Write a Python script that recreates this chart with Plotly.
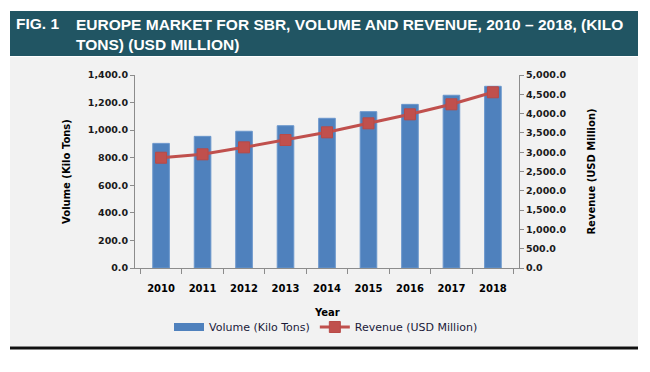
import plotly.graph_objects as go

years = ["2010", "2011", "2012", "2013", "2014", "2015", "2016", "2017", "2018"]
volume_kt = [904, 955, 992, 1032, 1086, 1134, 1187, 1253, 1318]
revenue_musd = [2857, 2945, 3126, 3316, 3515, 3748, 3981, 4241, 4552]

# The page puts the figure 8px in from the top-left corner of the window,
# so the figure is drawn 8px smaller and positions are given in window pixels.
OFF = 8
W, H = 650 - OFF, 372 - OFF
# plot area in window pixels
L, R, T, B = 135, 519, 75, 268


def px(x):
    return (x - L) / (R - L)


def py(y):
    return (B - y) / (B - T)


BLUE = "#4F81BD"
RED = "#C0504D"

fig = go.Figure()
fig.add_trace(go.Bar(
    x=years, y=volume_kt, name="Volume (Kilo Tons)",
    marker=dict(color=BLUE, line=dict(color="#6A96CC", width=1)),
    yaxis="y", showlegend=False,
))
# legend entry drawn as a wide flat swatch, like the original
fig.add_trace(go.Scatter(
    x=[None], y=[None], name="Volume (Kilo Tons)", mode="lines",
    line=dict(color=BLUE, width=8), yaxis="y",
))
fig.add_trace(go.Scatter(
    x=years, y=revenue_musd, name="Revenue (USD Million)",
    mode="lines+markers",
    line=dict(color=RED, width=3),
    marker=dict(symbol="square", size=11, color=RED,
                line=dict(color="#B84A47", width=1)),
    yaxis="y2",
))

tickfont = dict(family="DejaVu Sans", size=9.5, color="#1A1A1A", weight="bold")
titlefont = dict(family="DejaVu Sans", size=10, color="#000000", weight="bold")

fig.update_layout(
    width=W, height=H,
    margin=dict(l=L - OFF, r=W - (R - OFF), t=T - OFF, b=H - (B - OFF)),
    paper_bgcolor="white",
    plot_bgcolor="rgba(0,0,0,0)",
    bargap=0.6,
    showlegend=True,
    legend=dict(orientation="h", xref="container", yref="container",
                x=(326 - OFF) / W, xanchor="center",
                y=(H - (327 - OFF)) / H, yanchor="middle",
                font=dict(family="DejaVu Sans", size=11, color="#1A1A3A"),
                bgcolor="rgba(0,0,0,0)", itemwidth=30, tracegroupgap=0),
    xaxis=dict(
        automargin=False,
        showline=True, linecolor="#8C8C8C", linewidth=1,
        ticks="outside", tickson="boundaries", ticklen=5, tickcolor="#8C8C8C",
        ticklabelstandoff=11,
        tickfont=dict(family="DejaVu Sans", size=10, color="#000000", weight="bold"),
        showgrid=False,
    ),
    yaxis=dict(
        automargin=False,
        range=[0, 1400], dtick=200, tickformat=",.1f",
        showline=True, linecolor="#8C8C8C", linewidth=1,
        ticks="outside", ticklen=4, tickcolor="#8C8C8C",
        tickfont=tickfont, showgrid=False, zeroline=False,
        title=dict(text="Volume (Kilo Tons)", font=titlefont, standoff=15),
    ),
    yaxis2=dict(
        automargin=False,
        range=[0, 5000], dtick=500, tickformat=",.1f",
        overlaying="y", side="right",
        showline=True, linecolor="#8C8C8C", linewidth=1,
        ticks="outside", ticklen=4, tickcolor="#8C8C8C",
        tickfont=tickfont, showgrid=False, zeroline=False,
        title=dict(text="Revenue (USD Million)", font=titlefont, standoff=22),
    ),
    shapes=[
        dict(type="rect", xref="paper", yref="paper",
             x0=px(10), x1=px(638), y0=py(346), y1=py(57),
             fillcolor="#F2F2F2", line=dict(width=0), layer="below"),
        dict(type="rect", xref="paper", yref="paper",
             x0=px(10), x1=px(638), y0=py(56), y1=py(11),
             fillcolor="#215563", line=dict(width=0), layer="below"),
        dict(type="line", xref="paper", yref="paper",
             x0=px(10), x1=px(638), y0=py(348), y1=py(348),
             line=dict(color="#111111", width=3)),
    ],
    annotations=[
        dict(text="<b>FIG. 1</b>", xref="paper", yref="paper",
             x=px(14), y=py(24), xanchor="left", yanchor="middle",
             showarrow=False,
             font=dict(family="Liberation Sans", size=15.5, color="white")),
        dict(text="<b>EUROPE MARKET FOR SBR, VOLUME AND REVENUE, 2010 – 2018, (KILO<br>TONS) (USD MILLION)</b>",
             xref="paper", yref="paper", align="left",
             x=px(74), y=py(14), xanchor="left", yanchor="top",
             showarrow=False,
             font=dict(family="Liberation Sans", size=15.5, color="white")),
        dict(text="Year", xref="paper", yref="paper",
             x=0.5, y=py(312), xanchor="center", yanchor="middle",
             showarrow=False, font=titlefont),
    ],
)

fig.write_html("out.html")
